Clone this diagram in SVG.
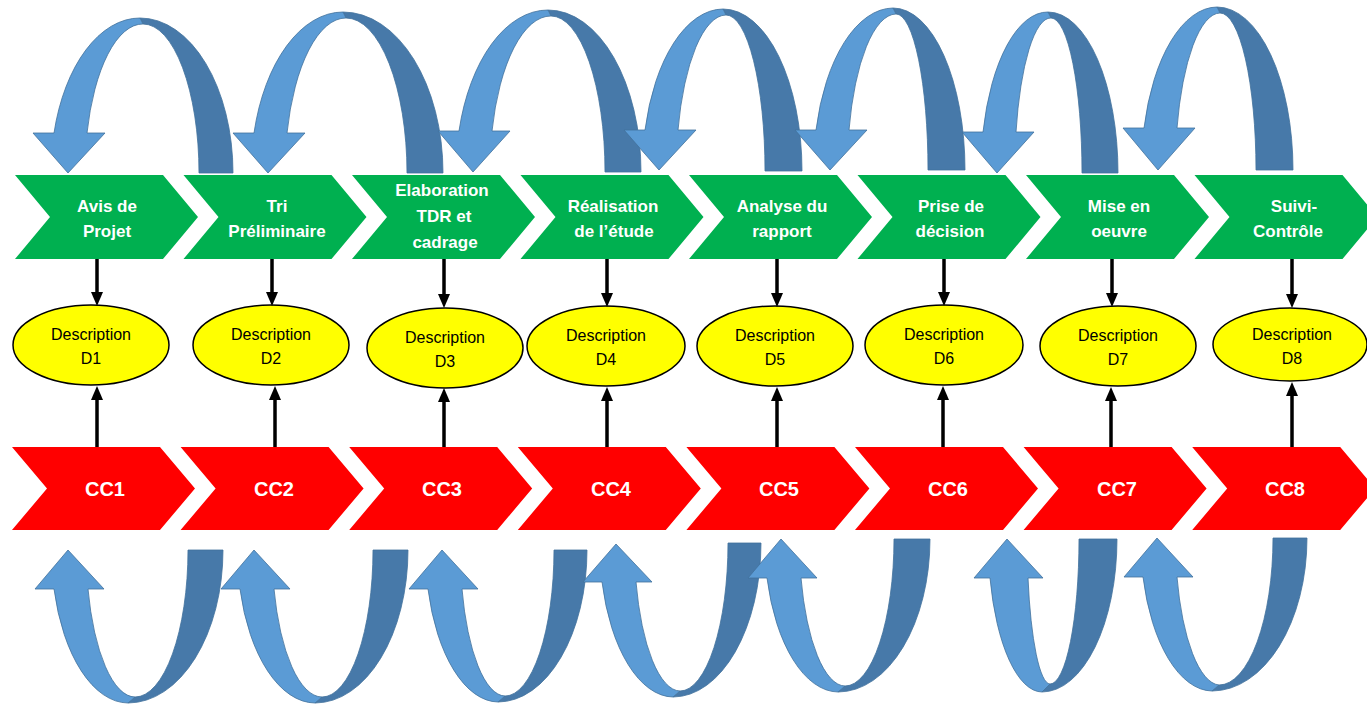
<svg xmlns="http://www.w3.org/2000/svg" width="1367" height="706" viewBox="0 0 1367 706">
<style>
.lt{fill:#5B9BD5;stroke:#41719C;stroke-width:0.8}
.dk{fill:#4779A9;stroke:#41719C;stroke-width:0.8}
.gr{fill:#00B050}
.rd{fill:#FF0000}
.el{fill:#FFFF00;stroke:#000;stroke-width:1.5}
.gt{font-family:"Liberation Sans",Arial,sans-serif;font-weight:bold;font-size:17px;fill:#fff;text-anchor:middle}
.rt{font-family:"Liberation Sans",Arial,sans-serif;font-weight:bold;font-size:20px;fill:#fff;text-anchor:middle}
.et{font-family:"Liberation Sans",Arial,sans-serif;font-size:16px;fill:#000;text-anchor:middle}
.cn{stroke:#000;stroke-width:3.5;fill:none;marker-end:url(#ah)}
</style>
<defs>
<marker id="ah" markerUnits="userSpaceOnUse" viewBox="0 0 14 12" markerWidth="14" markerHeight="12" refX="0" refY="6" orient="auto">
<path d="M0,0 L14,6 L0,12 Z" fill="#000"/>
</marker>
</defs>
<rect width="1367" height="706" fill="#fff"/>

<g id="cycle-top">
<path class="dk" d="M140,18 A93,155 0 0 1 233,173 L199,173 A56,149 0 0 0 143,24 Z"/>
<path class="lt" d="M33,133 L54,133 A89,155 0 0 1 140,18 L143,24 A58,149 0 0 0 87,133 L105,133 L68,173 Z"/>
<path class="dk" d="M343,12 A100,161 0 0 1 443,173 L407,173 A61,155 0 0 0 346,18 Z"/>
<path class="lt" d="M233,133 L254,133 A92,161 0 0 1 343,12 L346,18 A61,155 0 0 0 287,133 L305,133 L268,173 Z"/>
<path class="dk" d="M548,10 A93,162 0 0 1 641,172 L605,172 A54,156 0 0 0 551,16 Z"/>
<path class="lt" d="M438,131 L459,131 A92,162 0 0 1 548,10 L551,16 A61,156 0 0 0 492,131 L510,131 L473,172 Z"/>
<path class="dk" d="M723,9 A79,162 0 0 1 802,171 L765,171 A39,156 0 0 0 726,15 Z"/>
<path class="lt" d="M624,130 L645,130 A81,162 0 0 1 723,9 L726,15 A50,156 0 0 0 678,130 L696,130 L659,170 Z"/>
<path class="dk" d="M893,8 A72,162 0 0 1 965,170 L928,170 A32,156 0 0 0 896,14 Z"/>
<path class="lt" d="M795,130 L816,130 A80,162 0 0 1 893,8 L896,14 A49,156 0 0 0 849,130 L867,130 L830,170 Z"/>
<path class="dk" d="M1048,12 A70,161 0 0 1 1118,173 L1082,173 A31,155 0 0 0 1051,18 Z"/>
<path class="lt" d="M962,132 L983,132 A67,161 0 0 1 1048,12 L1051,18 A36,155 0 0 0 1016,132 L1034,132 L997,173 Z"/>
<path class="dk" d="M1217,7 A76,163 0 0 1 1293,170 L1256,170 A36,157 0 0 0 1220,13 Z"/>
<path class="lt" d="M1123,128 L1144,128 A76,163 0 0 1 1217,7 L1220,13 A45,157 0 0 0 1177,128 L1195,128 L1158,170 Z"/>
</g>

<g id="cycle-bottom">
<path class="dk" d="M128,703 A95,153 0 0 0 223,550 L188,550 A53,147 0 0 1 135,697 Z"/>
<path class="lt" d="M35,589 L54,589 A77,153 0 0 0 128,703 L135,697 A49,147 0 0 1 88,589 L104,589 L68,550 Z"/>
<path class="dk" d="M315,703 A93,153 0 0 0 408,550 L373,550 A51,147 0 0 1 322,697 Z"/>
<path class="lt" d="M221,589 L240,589 A78,153 0 0 0 315,703 L322,697 A50,147 0 0 1 274,589 L290,589 L254,550 Z"/>
<path class="dk" d="M498,702 A89,152 0 0 0 587,550 L554,550 A49,146 0 0 1 505,696 Z"/>
<path class="lt" d="M409,589 L428,589 A73,152 0 0 0 498,702 L505,696 A45,146 0 0 1 462,589 L478,589 L442,550 Z"/>
<path class="dk" d="M673,697 A88,154 0 0 0 761,543 L728,543 A48,148 0 0 1 680,691 Z"/>
<path class="lt" d="M583,582 L602,582 A74,154 0 0 0 673,697 L680,691 A46,148 0 0 1 636,582 L652,582 L616,544 Z"/>
<path class="dk" d="M838,692 A92,153 0 0 0 930,539 L894,539 A49,147 0 0 1 845,686 Z"/>
<path class="lt" d="M748,578 L767,578 A74,153 0 0 0 838,692 L845,686 A46,147 0 0 1 801,578 L817,578 L781,539 Z"/>
<path class="dk" d="M1042,692 A75,153 0 0 0 1117,539 L1079,539 A29,145 0 0 1 1050,684 Z"/>
<path class="lt" d="M974,578 L990,578 A54,153 0 0 0 1042,692 L1050,684 A23,145 0 0 1 1028,578 L1043,578 L1007,539 Z"/>
<path class="dk" d="M1212,691 A95,153 0 0 0 1307,538 L1273,538 A54,147 0 0 1 1219,685 Z"/>
<path class="lt" d="M1124,577 L1143,577 A72,153 0 0 0 1212,691 L1219,685 A45,147 0 0 1 1177,577 L1193,577 L1157,538 Z"/>
</g>

<g id="step1"><path class="gr" d="M15,175 L163,175 L198,217 L163,259 L15,259 L50,217 Z"/><text class="gt" x="107" y="212">Avis de</text><text class="gt" x="107" y="237">Projet</text></g>
<g id="step2"><path class="gr" d="M183.5,175 L331.5,175 L366.5,217 L331.5,259 L183.5,259 L218.5,217 Z"/><text class="gt" x="277" y="212">Tri</text><text class="gt" x="277" y="237">Préliminaire</text></g>
<g id="step3"><path class="gr" d="M352,175 L500,175 L535,217 L500,259 L352,259 L387,217 Z"/><text class="gt" x="442" y="196">Elaboration</text><text class="gt" x="444" y="222">TDR et</text><text class="gt" x="445" y="248">cadrage</text></g>
<g id="step4"><path class="gr" d="M520.5,175 L668.5,175 L703.5,217 L668.5,259 L520.5,259 L555.5,217 Z"/><text class="gt" x="613" y="212">Réalisation</text><text class="gt" x="614" y="237">de l’étude</text></g>
<g id="step5"><path class="gr" d="M689,175 L837,175 L872,217 L837,259 L689,259 L724,217 Z"/><text class="gt" x="782" y="212">Analyse du</text><text class="gt" x="782" y="237">rapport</text></g>
<g id="step6"><path class="gr" d="M857.5,175 L1005.5,175 L1040.5,217 L1005.5,259 L857.5,259 L892.5,217 Z"/><text class="gt" x="951" y="212">Prise de</text><text class="gt" x="950" y="237">décision</text></g>
<g id="step7"><path class="gr" d="M1026,175 L1174,175 L1209,217 L1174,259 L1026,259 L1061,217 Z"/><text class="gt" x="1119" y="212">Mise en</text><text class="gt" x="1119" y="237">oeuvre</text></g>
<g id="step8"><path class="gr" d="M1194.5,175 L1342.5,175 L1377.5,217 L1342.5,259 L1194.5,259 L1229.5,217 Z"/><text class="gt" x="1294" y="212">Suivi-</text><text class="gt" x="1288" y="237">Contrôle</text></g>

<g id="desc1"><ellipse class="el" cx="91" cy="345" rx="78" ry="40"/><text class="et" x="91" y="340">Description</text><text class="et" x="91" y="364">D1</text></g>
<g id="desc2"><ellipse class="el" cx="271" cy="345" rx="78" ry="40"/><text class="et" x="271" y="340">Description</text><text class="et" x="271" y="364">D2</text></g>
<g id="desc3"><ellipse class="el" cx="445" cy="348" rx="78" ry="40"/><text class="et" x="445" y="343">Description</text><text class="et" x="445" y="367">D3</text></g>
<g id="desc4"><ellipse class="el" cx="606" cy="346" rx="79" ry="40"/><text class="et" x="606" y="341">Description</text><text class="et" x="606" y="365">D4</text></g>
<g id="desc5"><ellipse class="el" cx="775" cy="346" rx="78" ry="40"/><text class="et" x="775" y="341">Description</text><text class="et" x="775" y="365">D5</text></g>
<g id="desc6"><ellipse class="el" cx="944" cy="345" rx="79" ry="40"/><text class="et" x="944" y="340">Description</text><text class="et" x="944" y="364">D6</text></g>
<g id="desc7"><ellipse class="el" cx="1118" cy="346" rx="78" ry="40"/><text class="et" x="1118" y="341">Description</text><text class="et" x="1118" y="365">D7</text></g>
<g id="desc8"><ellipse class="el" cx="1290" cy="344.5" rx="77" ry="36.5"/><text class="et" x="1292" y="340">Description</text><text class="et" x="1292" y="364">D8</text></g>

<g id="cc1"><path class="rd" d="M12,447 L160,447 L195,488.5 L160,530 L12,530 L47,488.5 Z"/><text class="rt" x="105" y="496">CC1</text></g>
<g id="cc2"><path class="rd" d="M180.6,447 L328.6,447 L363.6,488.5 L328.6,530 L180.6,530 L215.6,488.5 Z"/><text class="rt" x="274" y="496">CC2</text></g>
<g id="cc3"><path class="rd" d="M349.2,447 L497.2,447 L532.2,488.5 L497.2,530 L349.2,530 L384.2,488.5 Z"/><text class="rt" x="442" y="496">CC3</text></g>
<g id="cc4"><path class="rd" d="M517.8,447 L665.8,447 L700.8,488.5 L665.8,530 L517.8,530 L552.8,488.5 Z"/><text class="rt" x="611" y="496">CC4</text></g>
<g id="cc5"><path class="rd" d="M686.4,447 L834.4,447 L869.4,488.5 L834.4,530 L686.4,530 L721.4,488.5 Z"/><text class="rt" x="779" y="496">CC5</text></g>
<g id="cc6"><path class="rd" d="M855,447 L1003,447 L1038,488.5 L1003,530 L855,530 L890,488.5 Z"/><text class="rt" x="948" y="496">CC6</text></g>
<g id="cc7"><path class="rd" d="M1023.6,447 L1171.6,447 L1206.6,488.5 L1171.6,530 L1023.6,530 L1058.6,488.5 Z"/><text class="rt" x="1117" y="496">CC7</text></g>
<g id="cc8"><path class="rd" d="M1192.2,447 L1340.2,447 L1375.2,488.5 L1340.2,530 L1192.2,530 L1227.2,488.5 Z"/><text class="rt" x="1285" y="496">CC8</text></g>

<g id="connectors">
<line class="cn" x1="97" y1="259" x2="97" y2="292"/>
<line class="cn" x1="272" y1="259" x2="272" y2="292"/>
<line class="cn" x1="444" y1="259" x2="444" y2="294"/>
<line class="cn" x1="607" y1="259" x2="607" y2="293"/>
<line class="cn" x1="777" y1="259" x2="777" y2="293"/>
<line class="cn" x1="944" y1="259" x2="944" y2="292"/>
<line class="cn" x1="1112" y1="259" x2="1112" y2="293"/>
<line class="cn" x1="1292" y1="259" x2="1292" y2="294"/>
<line class="cn" x1="97" y1="447" x2="97" y2="400"/>
<line class="cn" x1="275" y1="447" x2="275" y2="400"/>
<line class="cn" x1="444" y1="447" x2="444" y2="402"/>
<line class="cn" x1="607" y1="447" x2="607" y2="401"/>
<line class="cn" x1="777" y1="447" x2="777" y2="401"/>
<line class="cn" x1="943" y1="447" x2="943" y2="400"/>
<line class="cn" x1="1111" y1="447" x2="1111" y2="401"/>
<line class="cn" x1="1292" y1="447" x2="1292" y2="396"/>
</g>
</svg>
